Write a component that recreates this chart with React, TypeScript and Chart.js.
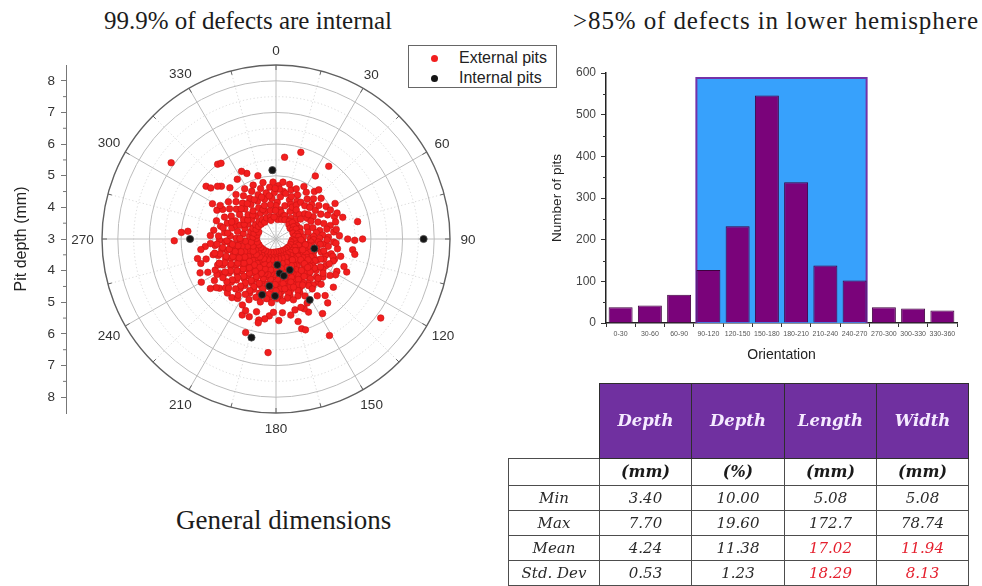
import React, { useEffect, useRef } from "react";
import { Chart, registerables } from "chart.js";

Chart.register(...registerables);

// ---------- polar plot: pit orientation (deg, clockwise from top) and depth (mm) ----------
const externalPits: [number, number][] = [
  // 0–90
  [4, 3.71], [8, 3.93], [2, 4.16], [6, 4.34], [9, 4.52], [3, 4.69], [7, 4.81], [5, 3.62], [0, 4.05], [4, 4.58],
  [11, 3.86], [18, 3.77], [15, 4.09], [19, 4.31], [12, 4.47], [17, 4.63], [14, 4.78], [16, 3.64], [16, 5.85], [6, 5.6],
  [21, 3.79], [27, 3.98], [23, 4.19], [29, 4.36], [26, 4.55], [22, 4.71], [28, 4.88], [25, 3.67], [20, 4.43], [27, 4.13],
  [36, 3.81], [39, 4.02], [31, 4.25], [34, 4.4], [38, 4.6], [33, 4.76], [37, 3.7], [35, 4.12], [32, 5.35], [36, 5.84], [39, 4.93],
  [42, 3.61], [47, 3.85], [44, 4.07], [49, 4.21], [41, 4.39], [46, 4.57], [43, 4.74], [48, 4.92], [45, 3.73], [41, 5.06], [47, 4.46],
  [53, 3.56], [58, 3.78], [51, 4.0], [56, 4.18], [59, 4.37], [54, 4.54], [52, 4.72], [57, 4.89], [55, 3.68], [59, 5.18], [53, 4.28],
  [62, 3.59], [66, 3.83], [69, 4.05], [63, 4.24], [68, 4.43], [61, 4.62], [65, 4.8], [69, 4.98], [64, 3.71], [67, 5.1], [62, 4.95],
  [71, 3.57], [75, 3.8], [78, 4.03], [73, 4.22], [79, 4.41], [72, 4.59], [76, 4.77], [74, 4.96], [77, 3.69], [78, 5.64], [72, 5.22], [79, 4.64],
  [82, 3.6], [86, 3.87], [89, 4.09], [81, 4.29], [85, 4.48], [88, 4.66], [83, 4.84], [87, 5.01], [84, 3.72], [89, 4.38], [86, 4.19], [81, 4.93],
  // 90–180
  [90, 5.27], [91, 5.49], [90, 5.74], [98, 5.45],
  [92, 3.52], [95, 3.68], [97, 3.86], [99, 4.03], [91, 4.19], [94, 4.34], [96, 4.51], [98, 4.67], [93, 4.83], [99, 4.97], [95, 4.11], [92, 3.79], [97, 4.41], [91, 4.62], [96, 3.58], [94, 4.9],
  [101, 5.54], [105, 5.12],
  [102, 3.49], [104, 3.66], [107, 3.83], [109, 4.0], [101, 4.17], [103, 4.32], [106, 4.49], [108, 4.65], [105, 4.81], [109, 4.96], [102, 4.08], [106, 3.74], [104, 4.56], [108, 4.26], [101, 3.95], [107, 4.88],
  [115, 5.47], [118, 5.18], [112, 5.32],
  [111, 3.5], [114, 3.65], [116, 3.84], [119, 3.99], [112, 4.15], [115, 4.31], [117, 4.47], [113, 4.64], [118, 4.79], [111, 4.94], [116, 4.06], [119, 3.76], [114, 4.55], [117, 4.24], [112, 3.91], [115, 4.86], [119, 4.41],
  [121, 5.2], [127, 7.15], [124, 5.06],
  [122, 3.47], [125, 3.63], [127, 3.81], [129, 3.97], [121, 4.13], [124, 4.29], [126, 4.45], [128, 4.61], [123, 4.77], [129, 4.91], [125, 4.04], [121, 3.72], [127, 4.53], [123, 4.21], [128, 3.89], [126, 4.84], [122, 4.66], [129, 4.37],
  [130, 5.37], [139, 5.37], [141, 5.6],
  [131, 3.45], [134, 3.61], [136, 3.79], [138, 3.95], [132, 4.11], [135, 4.27], [137, 4.43], [139, 4.59], [133, 4.75], [136, 4.9], [130, 4.02], [138, 3.7], [134, 4.5], [131, 4.19], [137, 3.87], [133, 4.82], [139, 4.66], [135, 5.02], [132, 4.35],
  [148, 5.78], [144, 5.22],
  [141, 3.44], [143, 3.59], [146, 3.76], [148, 3.93], [142, 4.09], [145, 4.25], [147, 4.41], [149, 4.57], [144, 4.73], [141, 4.87], [146, 4.0], [149, 3.68], [143, 4.48], [147, 4.16], [142, 3.84], [145, 4.8], [148, 4.64], [144, 4.95], [149, 4.33], [141, 4.28],
  [151, 6.49], [156, 5.53], [154, 5.25], [158, 5.38],
  [151, 3.42], [153, 3.57], [155, 3.74], [158, 3.9], [152, 4.06], [154, 4.22], [157, 4.38], [159, 4.54], [153, 4.7], [156, 4.85], [150, 3.98], [155, 4.14], [158, 4.3], [151, 4.46], [154, 4.62], [157, 4.77], [159, 4.93], [152, 3.66], [156, 3.82], [153, 5.02], [158, 4.12], [150, 4.68],
  [164, 5.95], [162, 6.02], [165, 5.7], [169, 5.45], [160, 5.3], [165, 5.32],
  [161, 3.41], [163, 3.56], [166, 3.72], [168, 3.88], [162, 4.04], [165, 4.2], [167, 4.36], [169, 4.52], [164, 4.68], [166, 4.83], [160, 3.96], [163, 4.12], [168, 4.28], [161, 4.44], [165, 4.6], [167, 4.75], [169, 4.9], [162, 3.64], [166, 3.8], [164, 5.0], [168, 4.08], [160, 4.62],
  [175, 5.34], [178, 5.58],
  [171, 3.41], [173, 3.55], [176, 3.71], [178, 3.87], [172, 4.03], [175, 4.19], [177, 4.35], [179, 4.51], [174, 4.67], [176, 4.82], [170, 3.95], [173, 4.11], [178, 4.27], [171, 4.43], [175, 4.59], [177, 4.74], [179, 4.88], [172, 3.63], [176, 3.79], [174, 4.97], [178, 4.06], [170, 4.6],
  // 180–270
  [184, 6.6], [185, 5.44], [188, 5.55], [182, 5.32],
  [181, 3.41], [183, 3.56], [186, 3.72], [188, 3.88], [182, 4.04], [185, 4.2], [187, 4.36], [189, 4.52], [184, 4.68], [186, 4.84], [180, 3.96], [183, 4.12], [188, 4.28], [181, 4.44], [185, 4.6], [187, 4.76], [189, 4.91], [182, 3.64], [186, 3.8], [184, 5.02], [188, 4.1], [180, 4.64],
  [192, 5.62], [192, 5.71], [199, 5.6], [198, 6.11], [195, 5.38],
  [191, 3.43], [193, 3.58], [196, 3.75], [198, 3.91], [192, 4.07], [195, 4.23], [197, 4.39], [199, 4.55], [194, 4.71], [196, 4.87], [190, 3.99], [193, 4.15], [198, 4.31], [191, 4.47], [195, 4.63], [197, 4.79], [199, 4.95], [192, 3.67], [196, 3.83], [194, 5.05], [198, 4.14],
  [204, 5.63], [207, 5.34], [203, 5.46],
  [201, 3.45], [203, 3.61], [206, 3.78], [208, 3.94], [202, 4.1], [205, 4.26], [207, 4.42], [209, 4.58], [204, 4.74], [206, 4.9], [200, 4.01], [203, 4.18], [208, 4.34], [201, 4.5], [205, 4.66], [207, 4.83], [209, 5.0], [202, 3.7], [206, 3.86], [204, 5.1],
  [217, 5.32], [213, 5.24],
  [211, 3.48], [213, 3.64], [216, 3.81], [218, 3.97], [212, 4.13], [215, 4.29], [217, 4.45], [219, 4.61], [214, 4.77], [216, 4.93], [210, 4.04], [213, 4.21], [218, 4.37], [211, 4.53], [215, 4.69], [217, 4.86], [219, 5.03], [212, 3.73], [214, 5.14],
  [229, 5.37], [226, 5.22], [222, 5.3],
  [221, 3.5], [223, 3.67], [226, 3.84], [228, 4.0], [222, 4.16], [225, 4.32], [227, 4.48], [229, 4.64], [224, 4.8], [226, 4.96], [220, 4.07], [223, 4.24], [228, 4.4], [221, 4.56], [225, 4.72], [227, 4.89], [229, 5.06], [222, 3.76], [224, 5.16],
  [231, 5.44], [233, 5.6], [239, 5.1], [236, 5.35],
  [231, 3.52], [233, 3.7], [236, 3.87], [238, 4.03], [232, 4.19], [235, 4.35], [237, 4.51], [239, 4.67], [234, 4.83], [236, 4.99], [230, 4.1], [233, 4.27], [238, 4.43], [231, 4.59], [235, 4.75], [237, 4.92], [239, 5.18], [232, 3.79], [234, 5.08],
  [240, 5.73], [243, 5.16], [246, 5.63], [244, 5.4],
  [241, 3.55], [243, 3.73], [246, 3.9], [248, 4.07], [242, 4.23], [245, 4.39], [247, 4.55], [249, 4.71], [244, 4.87], [246, 5.02], [240, 4.14], [243, 4.31], [248, 4.47], [241, 4.63], [245, 4.79], [247, 4.95], [242, 3.82],
  [252, 5.5], [256, 5.56], [254, 5.3],
  [251, 3.57], [253, 3.76], [256, 3.93], [258, 4.1], [252, 4.27], [255, 4.43], [257, 4.59], [259, 4.75], [254, 4.9], [256, 5.05], [250, 4.18], [253, 4.35], [258, 4.51], [251, 4.67], [255, 4.83], [257, 4.99],
  [264, 5.25], [269, 6.22], [262, 5.4],
  [261, 3.6], [263, 3.79], [266, 3.97], [268, 4.14], [262, 4.31], [265, 4.47], [267, 4.63], [269, 4.79], [264, 4.94], [266, 5.08], [260, 4.22], [263, 4.39], [268, 4.55], [261, 4.71], [265, 4.87],
  // 270–360
  [274, 6.0], [275, 5.8],
  [272, 3.62], [276, 3.84], [279, 4.05], [271, 4.26], [274, 4.45], [277, 4.64], [273, 4.82], [278, 4.99], [275, 3.73], [271, 4.14], [277, 4.54], [273, 5.08],
  [282, 3.61], [286, 3.83], [289, 4.04], [281, 4.24], [284, 4.44], [288, 4.62], [283, 4.8], [287, 4.97], [285, 3.72], [289, 4.33], [282, 4.71],
  [299, 5.3], [296, 5.08],
  [292, 3.59], [295, 3.81], [298, 4.01], [291, 4.22], [294, 4.41], [297, 4.59], [293, 4.77], [299, 4.93], [296, 3.7], [291, 4.5], [295, 4.11],
  [306, 7.1], [307, 5.77], [308, 5.62],
  [305, 3.79], [309, 3.99], [301, 4.2], [304, 4.39], [307, 4.57], [303, 4.75], [308, 4.91], [306, 3.68], [301, 5.06], [304, 4.08],
  [314, 5.4], [312, 5.49], [318, 5.18],
  [316, 3.77], [319, 3.97], [311, 4.17], [314, 4.37], [317, 4.55], [313, 4.73], [318, 4.89], [315, 3.66], [311, 4.46], [316, 4.06],
  [322, 6.0], [324, 5.96], [327, 5.25],
  [325, 3.75], [329, 3.95], [321, 4.15], [324, 4.35], [327, 4.53], [323, 4.71], [328, 4.87], [326, 3.64], [321, 4.44],
  [336, 5.27], [333, 5.4],
  [336, 3.73], [339, 3.93], [331, 4.13], [334, 4.33], [338, 4.51], [333, 4.69], [337, 4.85], [331, 4.42], [336, 4.02],
  [344, 5.08],
  [346, 3.72], [349, 3.92], [341, 4.12], [344, 4.31], [348, 4.49], [343, 4.67], [347, 4.83], [345, 3.61], [341, 4.4],
  [355, 3.7], [359, 3.9], [351, 4.1], [354, 4.29], [358, 4.47], [353, 4.65], [357, 4.8], [351, 4.38], [359, 4.6],
];

const internalPits: [number, number][] = [
  [357, 5.18], [270, 5.72], [90, 7.67], [104, 4.25], [177, 3.82], [156, 4.07], [174, 4.09],
  [168, 4.19], [188, 4.5], [194, 4.82], [181, 4.8], [151, 5.2], [194, 6.21],
];

const depthCentre = 3; // depth at the pole (mm)
const depthOuter = 8.5; // depth at the rim (mm)
const depthTicks = [3, 4, 5, 6, 7, 8];
const angleTicks = [0, 30, 60, 90, 120, 150, 180, 210, 240, 270, 300, 330];

// ---------- histogram of pit orientation ----------
const orientationBins = [
  "0-30", "30-60", "60-90", "90-120", "120-150", "150-180",
  "180-210", "210-240", "240-270", "270-300", "300-330", "330-360",
];
const pitCounts = [38, 42, 68, 127, 232, 546, 338, 138, 102, 38, 35, 30];
const lowerHemisphereBins = ["90-120", "240-270"];
const lowerHemisphereBandTop = 588;

// ---------- summary table ----------
const tableColumns = ["Depth", "Depth", "Length", "Width"];
const tableUnits = ["(mm)", "(%)", "(mm)", "(mm)"];
const statNames = ["Min", "Max", "Mean", "Std. Dev"];
const statValues = [
  ["3.40", "10.00", "5.08", "5.08"],
  ["7.70", "19.60", "172.7", "78.74"],
  ["4.24", "11.38", "17.02", "11.94"],
  ["0.53", "1.23", "18.29", "8.13"],
];
const statHighlighted = [
  [false, false, false, false],
  [false, false, false, false],
  [false, false, true, true],
  [false, false, true, true],
];

const SANS = "'Liberation Sans', Arial, sans-serif";
const SERIF = "'Liberation Serif', 'Times New Roman', serif";
const TABLE_SERIF = "'DejaVu Serif', serif";

const toXY = ([angle, depth]: [number, number]) => {
  const r = depth - depthCentre;
  const a = (angle * Math.PI) / 180;
  return { x: r * Math.sin(a), y: r * Math.cos(a) };
};

const polarGrid = {
  id: "polarGrid",
  beforeDatasetsDraw(chart: any) {
    const { ctx } = chart;
    const xs = chart.scales.x;
    const ys = chart.scales.y;
    const cx = xs.getPixelForValue(0);
    const cy = ys.getPixelForValue(0);
    const unit = cy - ys.getPixelForValue(1);
    const R = (depthOuter - depthCentre) * unit;
    const ray = (deg: number, r0: number, r1: number) => {
      const a = (deg * Math.PI) / 180;
      ctx.beginPath();
      ctx.moveTo(cx + r0 * Math.sin(a), cy - r0 * Math.cos(a));
      ctx.lineTo(cx + r1 * Math.sin(a), cy - r1 * Math.cos(a));
      ctx.stroke();
    };
    const ring = (r: number) => {
      ctx.beginPath();
      ctx.arc(cx, cy, r, 0, Math.PI * 2);
      ctx.stroke();
    };
    ctx.save();
    // minor dotted grid
    ctx.setLineDash([1.2, 2.4]);
    ctx.strokeStyle = "#cfcfcf";
    ctx.lineWidth = 0.8;
    for (let d = depthCentre + 0.5; d < depthOuter; d += 1) ring((d - depthCentre) * unit);
    for (const a of angleTicks) ray(a + 15, 0, R);
    // major grid
    ctx.setLineDash([]);
    ctx.strokeStyle = "#bcbcbc";
    ctx.lineWidth = 1;
    for (const d of depthTicks) if (d > depthCentre) ring((d - depthCentre) * unit);
    for (const a of angleTicks) ray(a, 0, R);
    // rim
    ctx.strokeStyle = "#606060";
    ctx.lineWidth = 1.4;
    ring(R);
    ctx.lineWidth = 1;
    for (const a of angleTicks) {
      ray(a, R - 5, R);
      ray(a + 15, R - 4, R);
    }
    ctx.restore();
  },
  afterDraw(chart: any) {
    const { ctx } = chart;
    const xs = chart.scales.x;
    const ys = chart.scales.y;
    const cx = xs.getPixelForValue(0);
    const cy = ys.getPixelForValue(0);
    const unit = cy - ys.getPixelForValue(1);
    const R = (depthOuter - depthCentre) * unit;
    ctx.save();
    ctx.font = `13.5px ${SANS}`;
    ctx.fillStyle = "#333";
    ctx.textAlign = "center";
    ctx.textBaseline = "middle";
    for (const a of angleTicks) {
      const t = String(a);
      const w = ctx.measureText(t).width;
      const rad = (a * Math.PI) / 180;
      const r = R + 15 + (w / 2) * Math.abs(Math.sin(rad)) * 0.4;
      ctx.fillText(t, cx + r * Math.sin(rad), cy - r * Math.cos(rad) + 1);
    }
    // half-millimetre minor ticks on the depth axis
    ctx.strokeStyle = "#777";
    ctx.lineWidth = 1;
    const ax = ys.right;
    for (let d = depthCentre + 0.5; d < depthOuter; d += 1) {
      for (const s of [-1, 1]) {
        const py = ys.getPixelForValue(s * (d - depthCentre));
        ctx.beginPath();
        ctx.moveTo(ax - 3, py);
        ctx.lineTo(ax, py);
        ctx.stroke();
      }
    }
    ctx.restore();
  },
};

const hemisphereBand = {
  id: "hemisphereBand",
  beforeDatasetsDraw(chart: any) {
    const { ctx } = chart;
    const ys = chart.scales.y;
    const meta = chart.getDatasetMeta(0);
    const b0 = meta.data[orientationBins.indexOf(lowerHemisphereBins[0])];
    const b1 = meta.data[orientationBins.indexOf(lowerHemisphereBins[1])];
    const left = b0.x - b0.width / 2;
    const right = b1.x + b1.width / 2;
    const top = ys.getPixelForValue(lowerHemisphereBandTop);
    const bottom = ys.getPixelForValue(0);
    ctx.save();
    ctx.fillStyle = "#37a1fc";
    ctx.fillRect(left, top, right - left, bottom - top);
    ctx.strokeStyle = "#7332a8";
    ctx.lineWidth = 2;
    ctx.beginPath();
    ctx.moveTo(left, bottom);
    ctx.lineTo(left, top);
    ctx.lineTo(right, top);
    ctx.lineTo(right, bottom);
    ctx.stroke();
    ctx.restore();
  },
  afterDraw(chart: any) {
    const { ctx } = chart;
    const ys = chart.scales.y;
    ctx.save();
    ctx.strokeStyle = "#333";
    ctx.lineWidth = 1;
    for (let v = 50; v < 600; v += 100) {
      const py = Math.round(ys.getPixelForValue(v)) + 0.5;
      ctx.beginPath();
      ctx.moveTo(ys.right - 3, py);
      ctx.lineTo(ys.right, py);
      ctx.stroke();
    }
    ctx.restore();
  },
};

export default function App() {
  const polarRef = useRef<HTMLCanvasElement>(null);
  const barRef = useRef<HTMLCanvasElement>(null);

  useEffect(() => {
    const polar = new Chart(polarRef.current as HTMLCanvasElement, {
      type: "scatter",
      data: {
        datasets: [
          {
            label: "Internal pits",
            data: internalPits.map(toXY),
            backgroundColor: "#151515",
            borderColor: "#4a4a4a",
            borderWidth: 0.8,
            pointRadius: 3.6,
            order: 0,
          },
          {
            label: "External pits",
            data: externalPits.map(toXY),
            backgroundColor: "#f21e1e",
            borderColor: "#c81212",
            borderWidth: 0.6,
            pointRadius: 3.3,
            order: 1,
          },
        ],
      },
      options: {
        animation: false,
        responsive: false,
        events: [],
        layout: { padding: { top: 65, bottom: 32, left: 0, right: 84 } },
        plugins: { legend: { display: false }, tooltip: { enabled: false } },
        scales: {
          x: { type: "linear", display: false, min: -6.645, max: 6.645 },
          y: {
            type: "linear",
            position: "left",
            min: -(depthOuter - depthCentre),
            max: depthOuter - depthCentre,
            afterBuildTicks: (s: any) => {
              const vals = depthTicks.flatMap((d) =>
                d === depthCentre ? [0] : [-(d - depthCentre), d - depthCentre]
              );
              s.ticks = vals.sort((a, b) => a - b).map((v) => ({ value: v }));
            },
            afterFit: (s: any) => {
              s.width = 66;
            },
            ticks: {
              callback: (v: any) => String(depthCentre + Math.abs(Number(v))),
              color: "#333",
              font: { family: SANS, size: 13.5 },
              padding: 6,
              autoSkip: false,
            },
            grid: { drawOnChartArea: false, drawTicks: true, tickLength: 5, color: "#777" },
            border: { display: true, color: "#777", width: 1 },
            title: {
              display: true,
              text: "Pit depth (mm)",
              color: "#222",
              font: { family: SANS, size: 16 },
              padding: { top: 12, bottom: 0 },
            },
          },
        },
      },
      plugins: [polarGrid],
    } as any);

    const bar = new Chart(barRef.current as HTMLCanvasElement, {
      type: "bar",
      data: {
        labels: orientationBins,
        datasets: [
          {
            data: pitCounts,
            backgroundColor: "#7a037a",
            borderColor: "#3e003e",
            borderWidth: 1,
            barPercentage: 0.82,
            categoryPercentage: 1,
          },
        ],
      },
      options: {
        animation: false,
        responsive: false,
        events: [],
        layout: { padding: { top: 13, right: 23, left: 0, bottom: 0 } },
        plugins: { legend: { display: false }, tooltip: { enabled: false } },
        scales: {
          x: {
            grid: { drawOnChartArea: false, drawTicks: true, tickLength: 4, color: "#333", offset: true },
            border: { display: true, color: "#222", width: 1.5 },
            ticks: {
              color: "#555",
              font: { family: SANS, size: 7 },
              padding: 3,
              maxRotation: 0,
              autoSkip: false,
            },
            afterFit: (s: any) => {
              s.height = 47;
            },
            title: {
              display: true,
              text: "Orientation",
              color: "#222",
              font: { family: SANS, size: 14 },
              padding: { top: 0, bottom: 6 },
            },
          },
          y: {
            min: 0,
            max: 600,
            ticks: { stepSize: 100, color: "#444", font: { family: SANS, size: 12 }, padding: 5 },
            grid: { drawOnChartArea: false, drawTicks: true, tickLength: 5, color: "#333" },
            border: { display: true, color: "#222", width: 1.5 },
            afterFit: (s: any) => {
              s.width = 66;
            },
            title: {
              display: true,
              text: "Number of pits",
              color: "#222",
              font: { family: SANS, size: 13.5 },
              padding: { top: 9, bottom: 0 },
            },
          },
        },
      },
      plugins: [hemisphereBand],
    } as any);

    return () => {
      polar.destroy();
      bar.destroy();
    };
  }, []);

  const cell: React.CSSProperties = {
    border: "1.5px solid #4d4d4d",
    padding: 0,
    textAlign: "center",
    verticalAlign: "middle",
    lineHeight: "1",
  };
  const headCell: React.CSSProperties = {
    ...cell,
    border: "1.5px solid #2e2e2e",
    background: "#7030a0",
    color: "#f5eaff",
    fontWeight: "bold",
    fontSize: 16.5,
  };

  return (
    <div
      style={{
        position: "fixed",
        left: 0,
        top: 0,
        width: 982,
        height: 586,
        overflow: "hidden",
        background: "#fff",
      }}
    >
      <div
        style={{
          position: "absolute",
          left: 104,
          top: 8,
          fontFamily: SERIF,
          fontSize: 25,
          lineHeight: "25px",
          color: "#1c1c1c",
          whiteSpace: "nowrap",
        }}
      >
        99.9% of defects are internal
      </div>
      <div
        style={{
          position: "absolute",
          left: 573,
          top: 8,
          fontFamily: SERIF,
          fontSize: 25,
          lineHeight: "25px",
          letterSpacing: "0.9px",
          color: "#1c1c1c",
          whiteSpace: "nowrap",
        }}
      >
        &gt;85% of defects in lower hemisphere
      </div>
      <div
        style={{
          position: "absolute",
          left: 176,
          top: 507,
          fontFamily: SERIF,
          fontSize: 27,
          lineHeight: "27px",
          color: "#1c1c1c",
          whiteSpace: "nowrap",
        }}
      >
        General dimensions
      </div>

      <canvas
        ref={polarRef}
        width={570}
        height={445}
        style={{ position: "absolute", left: 0, top: 0, width: 570, height: 445 }}
      />

      <div
        style={{
          position: "absolute",
          left: 408,
          top: 45,
          width: 149,
          height: 43,
          boxSizing: "border-box",
          border: "1px solid #666",
          background: "#fff",
          fontFamily: SANS,
          fontSize: 16,
          color: "#222",
        }}
      >
        {[
          { label: "External pits", color: "#f21e1e", cy: 12 },
          { label: "Internal pits", color: "#151515", cy: 32 },
        ].map((it) => (
          <React.Fragment key={it.label}>
            <span
              style={{
                position: "absolute",
                left: 22,
                top: it.cy - 3.5,
                width: 7,
                height: 7,
                borderRadius: "50%",
                background: it.color,
              }}
            />
            <span
              style={{
                position: "absolute",
                left: 50,
                top: it.cy - 9,
                lineHeight: "18px",
                whiteSpace: "nowrap",
              }}
            >
              {it.label}
            </span>
          </React.Fragment>
        ))}
      </div>

      <canvas
        ref={barRef}
        width={440}
        height={310}
        style={{ position: "absolute", left: 540, top: 60, width: 440, height: 310 }}
      />

      <table
        style={{
          position: "absolute",
          left: 508,
          top: 383,
          borderCollapse: "collapse",
          tableLayout: "fixed",
          width: 460,
          fontFamily: TABLE_SERIF,
          fontStyle: "italic",
          fontSize: 15,
          color: "#2a2a2a",
        }}
      >
        <colgroup>
          <col style={{ width: 91 }} />
          <col style={{ width: 92 }} />
          <col style={{ width: 93 }} />
          <col style={{ width: 92 }} />
          <col style={{ width: 92 }} />
        </colgroup>
        <tbody>
          <tr style={{ height: 75 }}>
            <td style={{ padding: 0, border: "none" }} />
            {tableColumns.map((c, i) => (
              <td key={i} style={headCell}>
                {c}
              </td>
            ))}
          </tr>
          <tr style={{ height: 27 }}>
            <td style={cell} />
            {tableUnits.map((u, i) => (
              <td key={i} style={{ ...cell, fontWeight: "bold", fontSize: 16, color: "#1a1a1a" }}>
                {u}
              </td>
            ))}
          </tr>
          {statNames.map((name, r) => (
            <tr key={name} style={{ height: 25 }}>
              <td style={cell}>{name}</td>
              {statValues[r].map((v, c) => (
                <td key={c} style={{ ...cell, color: statHighlighted[r][c] ? "#e5202e" : "#2a2a2a" }}>
                  {v}
                </td>
              ))}
            </tr>
          ))}
        </tbody>
      </table>
    </div>
  );
}
